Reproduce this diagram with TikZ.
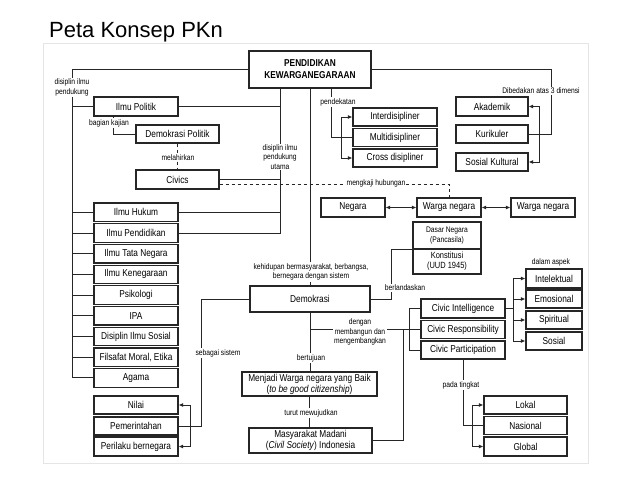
\documentclass[tikz,border=0pt]{standalone}
\usepackage{fontspec}
\newfontfamily\nf{Liberation Sans}[FakeStretch=0.83]
\newfontfamily\titlef{Liberation Sans}
\usetikzlibrary{arrows.meta}
\tikzset{
  bx/.style={draw=black!85, line width=1.15pt, fill=white, inner sep=0pt, align=center, font=\nf\fontsize{10}{11}\selectfont},
  lbl/.style={fill=white, inner sep=1pt, align=center, font=\nf\fontsize{8.1}{9.5}\selectfont},
  ln/.style={draw=black!85, line width=0.95pt},
}
\newcommand\bxn[5]{\node[bx, minimum width=#3pt, minimum height=#4pt] (#1) at (#2) {#5};}
\begin{document}
\begin{tikzpicture}[x=1pt,y=-1pt,>={Latex[length=4.5pt,width=4pt]}]
\useasboundingbox (0,0) rectangle (638,479);
\fill[white] (0,0) rectangle (638,479);
\draw[black!10, line width=0.6pt] (43,43) rectangle (588,463);
\node[anchor=base west, font=\titlef\fontsize{22}{26}\selectfont, inner sep=0pt] (title) at (49,37) {Peta Konsep PKn};

% boxes
\node[bx, minimum width=122pt, minimum height=37pt, font=\nf\bfseries\fontsize{10}{12}\selectfont] (pkn) at (310,69.5) {PENDIDIKAN\\KEWARGANEGARAAN};
\bxn{politik}{136,106.5}{84}{19}{Ilmu Politik}
\bxn{demopol}{177.5,134}{83}{18}{Demokrasi Politik}
\bxn{civics}{177.5,179.5}{83}{19}{Civics}
\bxn{hukum}{136,212.3}{84}{18.5}{Ilmu Hukum}
\bxn{pend}{136,233}{84}{18.5}{Ilmu Pendidikan}
\bxn{tata}{136,253.7}{84}{18.5}{Ilmu Tata Negara}
\bxn{kene}{136,274.4}{84}{18.5}{Ilmu Kenegaraan}
\bxn{psi}{136,295.1}{84}{18.5}{Psikologi}
\bxn{ipa}{136,315.8}{84}{18.5}{IPA}
\bxn{dis}{136,336.5}{84}{18.5}{Disiplin Ilmu Sosial}
\bxn{fil}{136,357.2}{84}{18.5}{Filsafat Moral, Etika}
\bxn{aga}{136,377.9}{84}{18.5}{Agama}
\bxn{nilai}{136,405}{84}{18}{Nilai}
\bxn{pemer}{136,426}{84}{18}{Pemerintahan}
\bxn{peril}{136,446.5}{84}{19}{Perilaku bernegara}

\bxn{inter}{395,117}{84}{18}{Interdisipliner}
\bxn{multi}{395,137.5}{84}{18}{Multidisipliner}
\bxn{cross}{395,158}{84}{18}{Cross disipliner}
\bxn{akad}{492,106.5}{72}{19}{Akademik}
\bxn{kuri}{492,134}{72}{18}{Kurikuler}
\bxn{sosk}{492,162}{72}{18}{Sosial Kultural}

\bxn{negara}{353,207.5}{64}{19}{Negara}
\bxn{wn}{449,207.5}{64}{19}{Warga negara}
\bxn{wn2}{543,207.5}{64}{19}{Warga negara}
\node[bx, minimum width=68pt, minimum height=27pt, font=\nf\fontsize{8.1}{10}\selectfont] (dasar) at (447,235.5) {Dasar Negara\\(Pancasila)};
\node[bx, minimum width=68pt, minimum height=25pt, font=\nf\fontsize{9}{10}\selectfont] (konst) at (447,261.5) {Konstitusi\\(UUD 1945)};

\bxn{demo}{310,299}{120}{26}{Demokrasi}
\bxn{ci}{463,308.5}{84}{19}{Civic Intelligence}
\bxn{cr}{463,329.5}{84}{18}{Civic Responsibility}
\bxn{cp}{463,350}{84}{18}{Civic Participation}
\bxn{intel}{554,278.5}{56}{19}{Intelektual}
\bxn{emo}{554,299}{56}{18}{Emosional}
\bxn{spir}{554,320}{56}{18}{Spiritual}
\bxn{sos}{554,341}{56}{18}{Sosial}
\bxn{lokal}{525.5,405}{83}{18}{Lokal}
\bxn{nas}{525.5,425.5}{83}{17.5}{Nasional}
\bxn{glob}{525.5,446.5}{83}{19}{Global}
\bxn{menjadi}{309.5,384}{135}{24}{Menjadi Warga negara yang Baik\\(\textit{to be good citizenship})}
\bxn{madani}{310.5,440.5}{123}{25}{Masyarakat Madani\\(\textit{Civil Society}) Indonesia}

% bus x positions
\coordinate (xL) at (72,0);
\coordinate (xU) at (280,0);
\coordinate (xBK) at (113,0);
\coordinate (xPD) at (331,0);
\coordinate (xDim) at (551,0);
\coordinate (xBer) at (391,0);
\coordinate (xSS) at (201,0);
\coordinate (xMM) at (403,0);
\coordinate (xCB) at (409,0);
\coordinate (xAB) at (513,0);

% connectors
\draw[ln] (pkn.west) -- (pkn.west -| xL) -- (aga.west -| xL) -- (aga.west);
\foreach \b in {politik,hukum,pend,tata,kene,psi,ipa,dis,fil} \draw[ln] (\b.west -| xL) -- (\b.west);
\draw[ln] (pkn.south -| xU) -- (pend.east -| xU) -- (pend.east);
\draw[ln] (politik.east) -- (politik.east -| xU);
\draw[ln] (hukum.east) -- (hukum.east -| xU);
\draw[ln] (civics.east) -- (civics.east -| xU);
\draw[ln, dashed] ([yshift=-5pt]civics.east) -- ([yshift=-5pt]civics.east -| wn.north) -- (wn.north);
\draw[ln] (politik.south -| xBK) -- (demopol.west -| xBK) -- (demopol.west);
\draw[ln, dashed] (demopol.south) -- (civics.north);
\draw[ln] (pkn.south) -- (demo.north);
\draw[ln] (pkn.south -| xPD) -- (multi.west -| xPD) -- (multi.west);
\draw[ln, <->] (inter.west) -- ++(-11,0) |- (cross.west);
\draw[ln] (pkn.east) -| (kuri.east -| xDim) -- (kuri.east);
\draw[ln, <->] (akad.east) -- ++(11,0) |- (sosk.east);
\draw[ln, <->] (negara.east) -- (wn.west);
\draw[ln, <->] (wn.east) -- (wn2.west);
\draw[ln] (demo.east) -- (demo.east -| xBer) -- (dasar.south west -| xBer) -- (dasar.south west);
\draw[ln] (demo.west) -- (demo.west -| xSS) -- (pemer.east -| xSS) -- (pemer.east);
\draw[ln, <->] (nilai.east) -- ++(12,0) |- (peril.east);
\draw[ln] (demo.south) -- (demo.south |- menjadi.north);
\draw[ln] (demo.south |- cr.west) -- (cr.west);
\draw[ln] (cr.west -| xMM) -- (madani.east -| xMM) -- (madani.east);
\draw[ln] (ci.west) -- (ci.west -| xCB) -- (cp.west -| xCB) -- (cp.west);
\draw[ln] (ci.east) -- (ci.east -| xAB);
\draw[ln, <->] (intel.west) -- (intel.west -| xAB) -- (sos.west -| xAB) -- (sos.west);
\draw[ln, ->] (emo.west -| xAB) -- (emo.west);
\draw[ln, ->] (spir.west -| xAB) -- (spir.west);
\draw[ln] (cp.south) -- (cp.south |- nas.west) -- (nas.west);
\draw[ln, <->] (lokal.west) -- ++(-11,0) |- (glob.west);
\draw[ln] (menjadi.south) -- (menjadi.south |- madani.north);

% labels
\node[lbl] (l1) at (72,87.5) {disiplin ilmu\\pendukung};
\node[lbl] (l2) at (109,123) {bagian kajian};
\node[lbl] (l3) at (178,157.5) {melahirkan};
\node[lbl] (l4) at (280,157) {disiplin ilmu\\pendukung\\utama};
\node[lbl] (l5) at (338,102) {pendekatan};
\node[lbl] (l6) at (541,91) {Dibedakan atas 3 dimensi};
\node[lbl] (l7) at (376,183) {mengkaji hubungan};
\node[lbl] (l8) at (311,272) {kehidupan bermasyarakat, berbangsa,\\bernegara dengan sistem};
\node[lbl] (l9) at (405,288) {berlandaskan};
\node[lbl] (l10) at (551,262) {dalam aspek};
\node[lbl] (l11) at (360,332) {dengan\\membangun dan\\mengembangkan};
\node[lbl] (l12) at (311,358) {bertujuan};
\node[lbl] (l13) at (218,353) {sebagai sistem};
\node[lbl] (l14) at (461,385) {pada tingkat};
\node[lbl] (l15) at (311,413) {turut mewujudkan};
\end{tikzpicture}
\end{document}
